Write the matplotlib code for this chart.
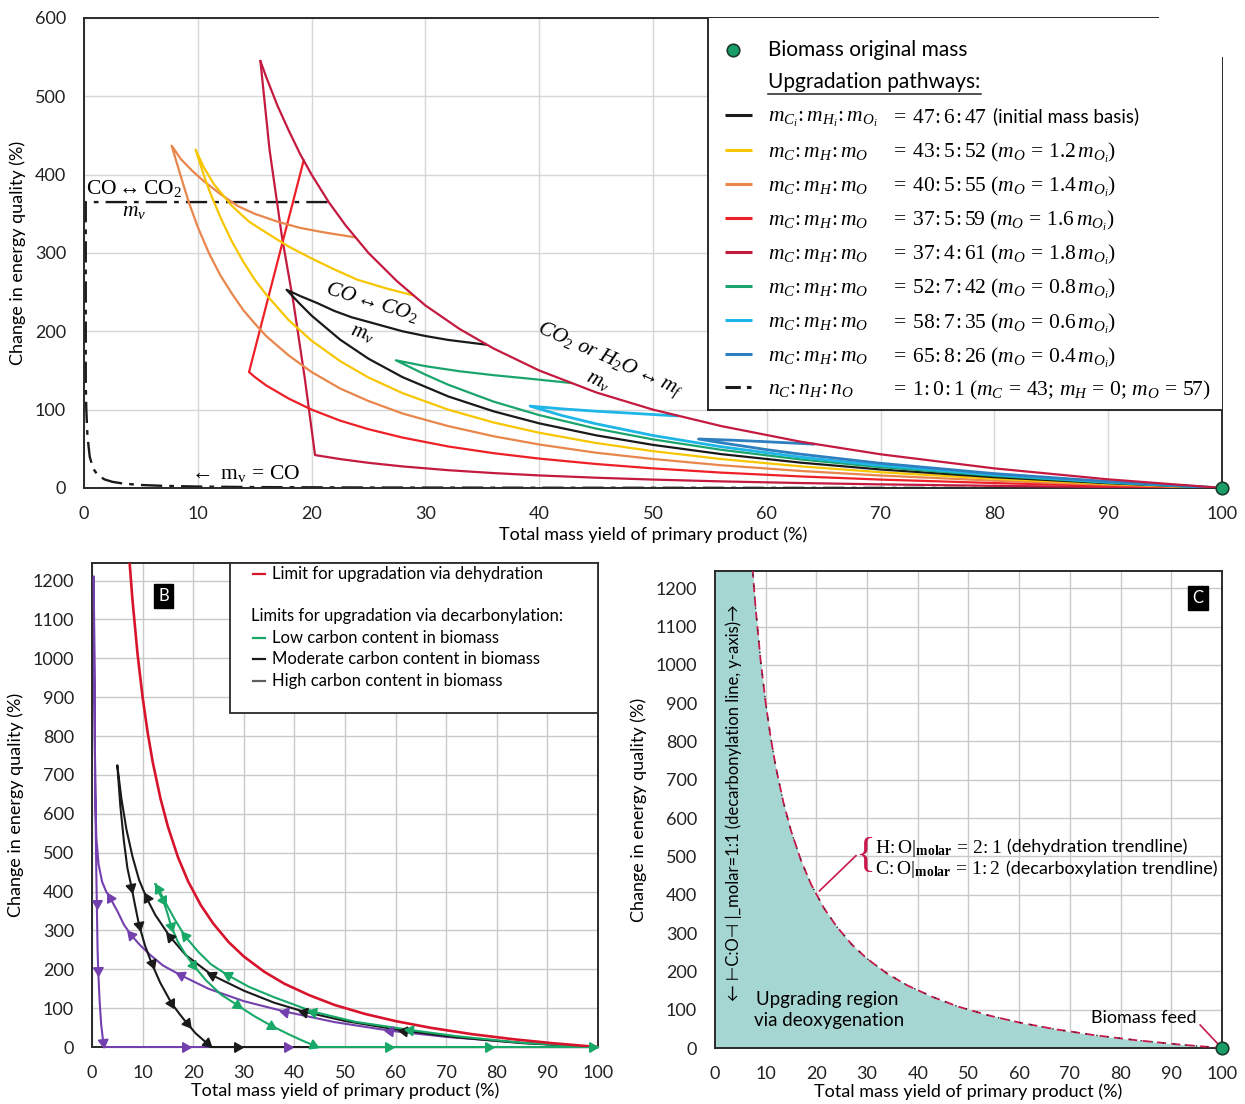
import numpy as np
import matplotlib
matplotlib.use("Agg")
import matplotlib.pyplot as plt
from matplotlib.patches import Rectangle

plt.rcParams['font.family'] = ['Lato', 'DejaVu Sans']
plt.rcParams['mathtext.fontset'] = 'custom'
plt.rcParams['mathtext.rm'] = 'Liberation Serif'
plt.rcParams['mathtext.it'] = 'Liberation Serif:italic'
plt.rcParams['mathtext.bf'] = 'Liberation Serif:bold'
plt.rcParams['mathtext.sf'] = 'Lato'

# ---------------- Panel A: upgradation pathways ----------------
# outer limit (m_C:m_H:m_O = 37:4:61), yield (%) vs change in energy quality (%)
env_x = [15.5, 16, 17, 18, 19, 20, 21.5, 23, 25, 27.5, 30, 33, 36, 40, 45, 50, 56, 63, 70, 80, 90, 100]
env_y = [545, 525, 488, 456, 426, 400, 365, 335, 300, 264, 233, 203, 178, 150, 122, 100, 79, 59, 43, 25, 11, 0]
crim_drop_x = [15.5, 16.3, 17.4, 18.4, 19.4, 20.3]
crim_drop_y = [545, 432, 320, 237, 140, 42]
crim_low_x = [20.3, 22.5, 25, 28, 32, 36, 40, 45, 50, 56, 63, 70, 80, 90, 100]
crim_low_y = [42, 36.9, 32.1, 27.5, 22.7, 19, 16, 13.1, 10.7, 8.4, 6.3, 4.6, 2.7, 1.2, 0]

# 37:5:59
red_x = [19.3, 14.5, 15, 16, 18, 20, 22.5, 25, 28, 32, 36, 40, 45, 50, 56, 63, 70, 80, 90, 100]
red_y = [418, 148, 141.7, 131, 114, 100, 86, 75, 64.3, 53, 44.4, 37.5, 30.6, 25, 19.6, 14.7, 10.7, 6.25, 2.8, 0]

# 40:5:55
orange_up_x = [23.8, 21, 19, 17, 15, 13.5, 12, 10.5, 9.5, 8.5, 7.7]
orange_up_y = [320, 326.5, 332, 340, 350, 360, 375, 392, 405, 420, 437]
orange_low_x = [7.7, 8.5, 9.2, 10, 11, 12, 13, 14, 15, 16, 18, 20, 22.5, 25, 28, 32, 36, 40, 45, 50, 56, 63, 70, 80, 90, 100]
orange_low_y = [437, 398, 365, 333, 299, 271, 248, 227, 210, 194, 169, 148, 127, 111, 95, 79, 66, 55.5, 45, 37, 29, 21.7, 15.9, 9.3, 4.1, 0]

# 43:5:52
yellow_up_x = [28.9, 26.5, 24, 22, 20, 18, 16, 14.5, 13, 11.4, 10.5, 9.8]
yellow_up_y = [246, 255, 266, 279, 293, 308, 326, 340, 360, 388, 410, 432]
yellow_low_x = [9.8, 10.5, 11, 12, 13, 14, 15, 16, 18, 20, 22.5, 25, 28, 32, 36, 40, 45, 50, 56, 63, 70, 80, 90, 100]
yellow_low_y = [432, 400.6, 380, 345, 314.5, 288.7, 266, 247, 214, 188, 162, 141, 121, 100, 83.6, 70.5, 57.4, 47, 36.9, 27.6, 20.1, 11.75, 5.2, 0]

# 47:6:47 (initial)
black_up_x = [35.3, 32, 30, 28, 26.5, 25, 23.5, 22, 20.5, 19, 17.8]
black_up_y = [183, 189, 194, 200, 206, 212, 218, 226, 236, 245, 253]
black_low_x = [17.8, 19, 20, 22.5, 25, 28, 32, 36, 40, 45, 50, 56, 63, 70, 80, 90, 100]
black_low_y = [253, 234.5, 220, 189.4, 165, 141.4, 116.9, 97.8, 82.5, 67.2, 55, 43.2, 32.3, 23.6, 13.75, 6.1, 0]

# 52:7:42
green_up_x = [42.8, 39.5, 36, 33, 30, 27.4]
green_up_y = [134, 139, 144, 149, 155.5, 163]
green_low_x = [27.4, 30, 32, 36, 40, 45, 50, 56, 63, 70, 80, 90, 100]
green_low_y = [163, 144.7, 131.8, 110.2, 93, 75.8, 62, 48.7, 36.4, 26.6, 15.5, 6.9, 0]

# 58:7:35
cyan_up_x = [52.1, 48, 45, 42, 39.2]
cyan_up_y = [92, 95.5, 98, 101, 104.5]
cyan_low_x = [39.2, 42, 45, 50, 56, 63, 70, 80, 90, 100]
cyan_low_y = [104.5, 92.5, 81.9, 67, 52.6, 39.3, 28.7, 16.75, 7.4, 0]

# 65:8:26
blue_up_x = [64.1, 60, 57, 54]
blue_up_y = [56, 59, 61, 62.5]
blue_low_x = [54, 56, 60, 63, 70, 80, 90, 100]
blue_low_y = [62.5, 57.7, 48.9, 43.1, 31.5, 18.35, 8.2, 0]

# n_C:n_H:n_O = 1:0:1
co_x = [21.4, 0.15, 0.15, 0.2, 0.3, 0.5, 0.8, 1.2, 1.8, 2.5, 3.5, 5, 7, 10, 15, 25, 40, 60, 100]
co_y = [365, 365, 133, 100, 66.5, 39.8, 24.8, 16.5, 10.9, 7.8, 5.5, 3.8, 2.7, 1.8, 1.1, 0.6, 0.3, 0.13, 0]

feed_x = [100]
feed_y = [0]

legend_left = ["$m_{C_i}\\!:m_{H_i}\\!:m_{O_i}$", "$m_C\\!:m_H\\!:m_O$", "$m_C\\!:m_H\\!:m_O$",
               "$m_C\\!:m_H\\!:m_O$", "$m_C\\!:m_H\\!:m_O$", "$m_C\\!:m_H\\!:m_O$",
               "$m_C\\!:m_H\\!:m_O$", "$m_C\\!:m_H\\!:m_O$", "$n_C\\!:n_H\\!:n_O$"]
legend_right = ["$=\\;47\\!:6\\!:47$",
                "$=\\;43\\!:5\\!:52\\ (m_O\\,=\\,1.2\\,m_{O_i})$",
                "$=\\;40\\!:5\\!:55\\ (m_O\\,=\\,1.4\\,m_{O_i})$",
                "$=\\;37\\!:5\\!:59\\ (m_O\\,=\\,1.6\\,m_{O_i})$",
                "$=\\;37\\!:4\\!:61\\ (m_O\\,=\\,1.8\\,m_{O_i})$",
                "$=\\;52\\!:7\\!:42\\ (m_O\\,=\\,0.8\\,m_{O_i})$",
                "$=\\;58\\!:7\\!:35\\ (m_O\\,=\\,0.6\\,m_{O_i})$",
                "$=\\;65\\!:8\\!:26\\ (m_O\\,=\\,0.4\\,m_{O_i})$",
                "$=\\;1\\!:0\\!:1\\ (m_C\\,=\\,43;\\,m_H\\,=\\,0;\\,m_O\\,=\\,57)$"]

C_BLACK = '#1a1a1a'
C_YEL = '#f7c600'
C_ORA = '#e8864c'
C_RED = '#ee1f26'
C_CRIM = '#c41a40'
C_GRN = '#1aa56c'
C_CYAN = '#1eb6e6'
C_BLUE = '#2e7fc0'
C_PURP = '#7340ad'

# ---------------- Panel B: limits ----------------
dehyd_x = [7.4, 8, 9, 10, 11, 12, 13.5, 15, 17, 19, 21.5, 24, 27, 30, 34, 38, 43, 48, 54, 60, 67, 75, 83, 91, 100]
dehyd_y = [1251, 1150, 1011, 900, 809, 733, 641, 567, 488, 426, 365, 317, 270, 233, 194, 163, 133, 108, 85, 66.7, 49.3, 33.3, 20.5, 9.9, 0]

# high carbon content
hi_b_x = [0.35, 0.45, 0.55, 0.65, 0.85, 1.3, 2, 2.8, 3.6, 5, 6.3, 7.8, 9.5, 11.5, 14, 17.5, 23, 30, 38.2, 48, 58.9, 70, 85, 100]
hi_b_y = [1210, 1000, 800, 650, 540, 470, 425, 400, 383, 350, 315, 287, 262, 237, 210, 185, 150, 118, 91, 64, 42, 26, 11, 0]
hi_a_x = [0.35, 0.45, 0.55, 0.7, 0.85, 0.95, 1.1, 1.25, 1.5, 1.8, 2.2, 2.35]
hi_a_y = [1210, 1000, 800, 600, 450, 370, 250, 190, 120, 60, 14, 0]
hi_mark_a = ([0.95, 1.2, 2.2], [370, 198, 14])
hi_mark_b = ([3.6, 7.8, 17.5, 38.2, 58.9], [383, 287, 185, 91, 42])
hi_mark_0 = [18.4, 38.5]

# moderate carbon content
mod_b_x = [5.0, 5.8, 6.8, 8.0, 9.3, 10.8, 12.5, 15.4, 18.5, 23.7, 30, 36, 41.9, 50, 61.6, 72, 85, 100]
mod_b_y = [725, 640, 560, 490, 430, 383, 340, 284, 237, 185, 145, 114, 91, 67, 42, 25, 10, 0]
mod_a_x = [5.0, 5.6, 6.3, 7.0, 7.8, 8.5, 9.3, 10.5, 11.8, 13.5, 15.7, 17.3, 18.7, 20.5, 22.7, 23.4]
mod_a_y = [725, 620, 530, 460, 412, 365, 314, 260, 215, 165, 113, 85, 62, 35, 10, 0]
mod_mark_a = ([7.8, 9.3, 11.8, 15.7, 18.7, 22.7], [412, 314, 215, 113, 62, 10])
mod_mark_b = ([10.8, 15.4, 23.7, 41.9, 61.6], [383, 284, 185, 91, 42])
mod_mark_0 = [28.6]

# low carbon content
low_b_x = [12.5, 13.1, 14, 15, 16.5, 18.4, 21, 23.5, 26.8, 31, 36, 43.7, 52, 62.8, 72, 85, 100]
low_b_y = [420, 407, 385, 360, 325, 285, 245, 213, 185, 155, 128, 91, 65, 44, 28, 11, 0]
low_a_x = [12.5, 13.3, 14.1, 15.0, 15.6, 17, 18.5, 20, 22.5, 25.5, 28.7, 32, 35.4, 39, 41.5, 43.7, 44.5]
low_a_y = [420, 395, 377, 340, 312, 270, 238, 211, 172, 135, 108, 80, 55, 32, 17, 5, 0]
low_mark_a = ([14.1, 15.6, 20, 28.7, 35.4, 43.7], [377, 312, 211, 108, 55, 5])
low_mark_b = ([13.1, 18.4, 26.8, 43.7, 62.8], [407, 285, 185, 91, 44])
low_mark_0 = [58.5, 78.3, 98.8]

C_BRED = '#d7142c'
C_BGRN = '#18a868'

fig = plt.figure(figsize=(12.45, 11.04), dpi=100)
renderer = fig.canvas.get_renderer()

TICK = 13


def style_axes(ax, grid_color):
    ax.set_axisbelow(True)
    ax.grid(True, color=grid_color, lw=1.0)
    ax.tick_params(length=0, labelsize=TICK, pad=13, colors='#222222')
    for s in ax.spines.values():
        s.set_color('#2a2a2a')
        s.set_linewidth(1.4)


def text_after(ax, first, gap_px, y, s, **kw):
    """Place a text right after an already drawn text artist (same baseline)."""
    bb = first.get_window_extent(renderer)
    x_disp = bb.x1 + gap_px
    x_data = ax.transData.inverted().transform((x_disp, 0))[0]
    return ax.text(x_data, y, s, **kw)


# ---------- Panel A ----------
ax = fig.add_axes([0.0675, 0.558, 0.914, 0.4257])
ax.set_xlim(0, 100)
ax.set_ylim(0, 600)
ax.set_xticks(range(0, 101, 10))
ax.set_yticks(range(0, 601, 100))
style_axes(ax, '#d6d6d6')
ax.spines['top'].set_bounds(0, 94.4)
ax.spines['right'].set_bounds(0, 549)
ax.set_xlabel('Total mass yield of primary product (%)', fontsize=13, labelpad=3)
ax.set_ylabel('Change in energy quality (%)', fontsize=13, labelpad=6)

LW = 1.6
ax.plot(co_x, co_y, color=C_BLACK, lw=1.7, ls=(0, (9, 3, 2, 3)), zorder=2)
ax.plot(crim_drop_x + crim_low_x[1:], crim_drop_y + crim_low_y[1:], color=C_CRIM, lw=LW, zorder=3)
ax.plot(red_x, red_y, color=C_RED, lw=LW, zorder=3)
ax.plot(orange_up_x + orange_low_x[1:], orange_up_y + orange_low_y[1:], color=C_ORA, lw=LW, zorder=3)
ax.plot(yellow_up_x + yellow_low_x[1:], yellow_up_y + yellow_low_y[1:], color=C_YEL, lw=LW, zorder=3)
ax.plot(black_up_x + black_low_x[1:], black_up_y + black_low_y[1:], color=C_BLACK, lw=LW, zorder=3)
ax.plot(green_up_x + green_low_x[1:], green_up_y + green_low_y[1:], color=C_GRN, lw=LW, zorder=3)
ax.plot(cyan_up_x + cyan_low_x[1:], cyan_up_y + cyan_low_y[1:], color=C_CYAN, lw=2.0, zorder=3)
ax.plot(blue_up_x + blue_low_x[1:], blue_up_y + blue_low_y[1:], color=C_BLUE, lw=2.0, zorder=3)
ax.plot(env_x, env_y, color=C_CRIM, lw=LW, zorder=4)
ax.plot(feed_x, feed_y, 'o', ms=9, mfc='#1a9e68', mec='#1a3a2a', mew=1.2, zorder=10, clip_on=False)

MS = 15.5
ax.text(4.4, 382, r'$\mathrm{CO} \leftrightarrow \mathrm{CO_2}$', ha='center', va='center', fontsize=MS)
ax.text(4.4, 353, r'$m_v$', ha='center', va='center', fontsize=MS)
ax.text(25.3, 237, r'$CO \leftrightarrow CO_2$', ha='center', va='center', fontsize=MS, rotation=-17)
ax.text(24.5, 198, r'$m_v$', ha='center', va='center', fontsize=MS, rotation=-17)
ax.text(46.2, 163, r'$CO_2\ or\ H_2O \leftrightarrow m_f$', ha='center', va='center', fontsize=MS, rotation=-24)
ax.text(45.2, 137, r'$m_v$', ha='center', va='center', fontsize=MS, rotation=-24)
ax.text(14.1, 18, r'$\leftarrow\ \mathrm{m_v\,=\,CO}$', ha='center', va='center', fontsize=MS)

# legend panel
LX0, LY0 = 54.8, 99.6
ax.add_patch(Rectangle((LX0, LY0), 100 - LX0, 600 - LY0, facecolor='white', edgecolor='none', zorder=5))
ax.plot([LX0, LX0], [LY0, 600], color='#2a2a2a', lw=1.4, zorder=6)
ax.plot([LX0, 100], [LY0, LY0], color='#2a2a2a', lw=1.4, zorder=6)
ax.plot([57.0], [559], 'o', ms=9, mfc='#1a9e68', mec='#1a3a2a', mew=1.2, zorder=7)
ax.text(60.1, 559, 'Biomass original mass', fontsize=15, va='center', zorder=7)
ax.text(60.1, 518, 'Upgradation pathways:', fontsize=15, va='center', zorder=7)
ax.plot([60.1, 78.8], [503, 503], color='#222222', lw=1.1, zorder=7)

rows_y = [476, 431.7, 388.3, 344.8, 301.4, 258, 214.5, 171.1, 129]
row_colors = [C_BLACK, C_YEL, C_ORA, C_RED, C_CRIM, C_GRN, C_CYAN, C_BLUE, C_BLACK]
first_right = None
for i, (yy, cc) in enumerate(zip(rows_y, row_colors)):
    ls = (0, (5, 2, 1.5, 2)) if i == 8 else '-'
    ax.plot([56.3, 58.7], [yy, yy], color=cc, lw=2.2, ls=ls, zorder=7, solid_capstyle='butt')
    ax.text(60.1, yy, legend_left[i], fontsize=MS, va='center_baseline', zorder=7)
    t = ax.text(70.8, yy, legend_right[i], fontsize=MS, va='center_baseline', zorder=7)
    if i == 0:
        first_right = t
text_after(ax, first_right, 6, rows_y[0], '(initial mass basis)', fontsize=13.5,
           va='center_baseline', zorder=7)


# ---------- Panel B ----------
def travel_arrows(axx, px, py, mx, my, color, size=8):
    pts = axx.transData.transform(np.column_stack([px, py]))
    for x, y in zip(mx, my):
        q = axx.transData.transform((x, y))
        best_d, best_v = None, None
        for i in range(len(pts) - 1):
            a, b = pts[i], pts[i + 1]
            ab = b - a
            nn = np.dot(ab, ab)
            if nn == 0:
                continue
            t = np.clip(np.dot(q - a, ab) / nn, 0, 1)
            d = np.linalg.norm(a + t * ab - q)
            if best_d is None or d < best_d:
                best_d, best_v = d, ab
        ang = np.degrees(np.arctan2(best_v[1], best_v[0]))
        axx.plot(x, y, marker=(3, 0, ang - 90), ms=size, color=color, mec=color,
                 zorder=6, clip_on=False, ls='none')


bx = fig.add_axes([0.0739, 0.0516, 0.4064, 0.4384])
bx.set_xlim(0, 100)
bx.set_ylim(0, 1245)
bx.set_xticks(range(0, 101, 10))
bx.set_yticks(range(0, 1201, 100))
style_axes(bx, '#c9c9c9')
bx.set_xlabel('Total mass yield of primary product (%)', fontsize=13, labelpad=1)
bx.set_ylabel('Change in energy quality (%)', fontsize=13, labelpad=6)

loops = [
    (hi_b_x, hi_b_y, hi_a_x, hi_a_y, hi_mark_a, hi_mark_b, hi_mark_0, C_PURP),
    (mod_b_x, mod_b_y, mod_a_x, mod_a_y, mod_mark_a, mod_mark_b, mod_mark_0, C_BLACK),
    (low_b_x, low_b_y, low_a_x, low_a_y, low_mark_a, low_mark_b, low_mark_0, C_BGRN),
]
for b_x, b_y, a_x, a_y, m_a, m_b, m_0, col in loops:
    up_x, up_y = b_x[::-1], b_y[::-1]
    bot_x, bot_y = [a_x[-1], 100], [0, 0]
    bx.plot(up_x + a_x[1:] + bot_x[1:], up_y + a_y[1:] + bot_y[1:], color=col, lw=1.5, zorder=4,
            clip_on=False)
    travel_arrows(bx, a_x, a_y, m_a[0], m_a[1], col)
    travel_arrows(bx, up_x, up_y, m_b[0], m_b[1], col)
    travel_arrows(bx, bot_x, bot_y, m_0, [0] * len(m_0), col)

bx.plot(dehyd_x, dehyd_y, color=C_BRED, lw=1.9, zorder=5)

bx.add_patch(Rectangle((27.3, 858), 72.7, 387, facecolor='white', edgecolor='#2a2a2a', lw=1.3, zorder=7))
bx.plot([31.8, 34.2], [1218, 1218], color=C_BRED, lw=1.6, zorder=8)
bx.text(35.6, 1218, 'Limit for upgradation via dehydration', fontsize=12, va='center', zorder=8)
bx.text(31.4, 1110, 'Limits for upgradation via decarbonylation:', fontsize=12, va='center', zorder=8)
for yy, cc, tt in [(1053, C_BGRN, 'Low carbon content in biomass'),
                   (997, C_BLACK, 'Moderate carbon content in biomass'),
                   (942, '#5f5f5f', 'High carbon content in biomass')]:
    bx.plot([31.8, 34.2], [yy, yy], color=cc, lw=1.6, zorder=8)
    bx.text(35.6, yy, tt, fontsize=12, va='center', zorder=8)
bx.text(14.2, 1160, 'B', color='white', fontsize=12, ha='center', va='center', zorder=8,
        bbox=dict(boxstyle='square,pad=0.25', fc='black', ec='black'))


# ---------- Panel C ----------
cx = fig.add_axes([0.5743, 0.0507, 0.4072, 0.4321])
cx.set_xlim(0, 100)
cx.set_ylim(0, 1245)
cx.set_xticks(range(0, 101, 10))
cx.set_yticks(range(0, 1201, 100))
style_axes(cx, '#c9c9c9')
cx.set_xlabel('Total mass yield of primary product (%)', fontsize=13, labelpad=1)
cx.set_ylabel('Change in energy quality (%)', fontsize=13, labelpad=6)

cx.fill_between([0] + dehyd_x, [dehyd_y[0]] + dehyd_y, 0, color='#a6d6d2', lw=0, zorder=1)
cx.plot(dehyd_x, dehyd_y, color='#c8184c', lw=1.3, ls=(0, (5, 3)), zorder=3)
cx.plot(dehyd_x, dehyd_y, color='#222222', lw=1.0, ls=(4, (1, 7)), zorder=3)
cx.plot(feed_x, feed_y, 'o', ms=9, mfc='#1a9e68', mec='#1a3a2a', mew=1.2, zorder=10, clip_on=False)

cx.plot([20.6, 27.8], [410, 502], color='#c8184c', lw=1.2, zorder=4)
cx.text(29.7, 502, '{', fontsize=30, color='#c8184c', ha='center', va='center', family='Liberation Serif',
        zorder=4)
h1 = cx.text(31.6, 529, r'$\mathrm{H\!:O}|_{\mathbf{molar}}\,=\,2\!:1$', fontsize=14, va='center_baseline', zorder=4)
text_after(cx, h1, 5, 529, '(dehydration trendline)', fontsize=13, va='center_baseline', zorder=4)
h2 = cx.text(31.6, 473, r'$\mathrm{C\!:O}|_{\mathbf{molar}}\,=\,1\!:2$', fontsize=14, va='center_baseline', zorder=4)
text_after(cx, h2, 5, 473, '(decarboxylation trendline)', fontsize=13, va='center_baseline', zorder=4)

cx.text(8.1, 126, 'Upgrading region', fontsize=13.5, va='center', zorder=4)
cx.text(7.7, 71, 'via deoxygenation', fontsize=13.5, va='center', zorder=4)
cx.text(95.0, 78, 'Biomass feed', fontsize=13, ha='right', va='center', zorder=4)
cx.plot([95.7, 99.4], [60, 8], color='#c8184c', lw=1.2, zorder=4)
cx.text(3.6, 640, '\u2190 \u22a2C:O\u22a3 |_molar=1:1 (decarbonylation line, y-axis)\u2192',
        rotation=90, fontsize=12, ha='center', va='center', zorder=4)
cx.text(95.3, 1175, 'C', color='white', fontsize=12, ha='center', va='center', zorder=8,
        bbox=dict(boxstyle='square,pad=0.25', fc='black', ec='black'))

fig.savefig('out.png', dpi=100, facecolor='white')
